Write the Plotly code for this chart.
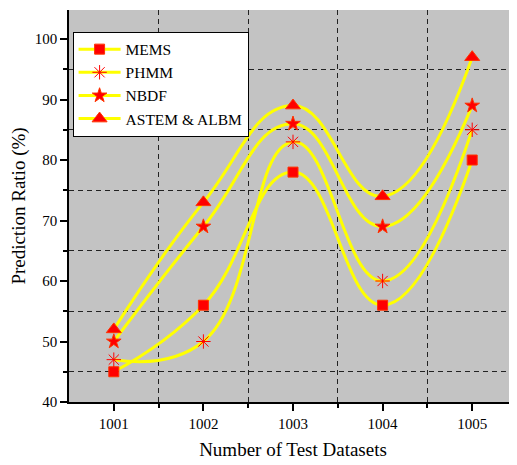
import plotly.graph_objects as go

datasets = [1001, 1002, 1003, 1004, 1005]
mems = [45, 56, 78, 56, 80]
phmm = [47, 50, 83, 60, 85]
nbdf = [50, 69, 86, 69, 89]
astem = [52, 73, 89, 74, 97]

series = [
    ("MEMS", mems, "square", 10),
    ("PHMM", phmm, "asterisk-open", 12),
    ("NBDF", nbdf, "star", 11),
    ("ASTEM &amp; ALBM", astem, "triangle-up", 13),
]

fig = go.Figure()
for name, vals, sym, size in series:
    fig.add_trace(go.Scatter(
        x=datasets, y=vals, name=name, mode="lines+markers",
        line=dict(color="#ffff00", width=3, shape="spline", smoothing=1.3),
        marker=dict(symbol=sym, size=size, color="#ff0000",
                    line=dict(color="#ff3300", width=1)),
    ))

font_family = "Liberation Serif, Times New Roman, serif"
# page body has an 8px margin, so the figure is sized/offset to compensate
fig.update_layout(
    width=509, height=457,
    margin=dict(l=61, r=0, t=2, b=63),
    paper_bgcolor="white",
    plot_bgcolor="#c3c3c3",
    font=dict(family=font_family, color="black", size=15),
    legend=dict(
        x=0.008, y=0.945, xanchor="left", yanchor="top",
        bgcolor="white", bordercolor="black", borderwidth=1,
        font=dict(size=15.5, family=font_family), itemwidth=42,
        tracegroupgap=0,
    ),
    showlegend=True,
)
fig.update_xaxes(
    range=[1000.5, 1005.5], tickvals=datasets, ticktext=[str(d) for d in datasets],
    showline=True, linecolor="black", linewidth=1.5, mirror=False,
    ticks="outside", ticklen=7, tickwidth=1.5, tickcolor="black",
    showgrid=False, zeroline=False, automargin=False,
    tickfont=dict(size=15, family=font_family),
    title=dict(text="Number of Test Datasets", font=dict(size=19, family=font_family), standoff=12),
    minor=dict(tickvals=[1001.5, 1002.5, 1003.5, 1004.5], ticks="outside", ticklen=4,
               tickcolor="black", showgrid=True, gridcolor="#222",
               griddash="5px,4px", gridwidth=1),
)
fig.update_yaxes(
    range=[40, 104.8], tickvals=[40, 50, 60, 70, 80, 90, 100],
    showline=True, linecolor="black", linewidth=1.5,
    ticks="outside", ticklen=7, tickwidth=1.5, tickcolor="black",
    showgrid=False, zeroline=False, automargin=False,
    tickfont=dict(size=15, family=font_family),
    title=dict(text="Prediction Ratio (%)", font=dict(size=19, family=font_family), standoff=12),
    minor=dict(tickvals=[45, 55, 65, 75, 85, 95], ticks="outside", ticklen=4,
               tickcolor="black", showgrid=True, gridcolor="#222",
               griddash="5px,4px", gridwidth=1),
)

fig.write_html("out.html")
